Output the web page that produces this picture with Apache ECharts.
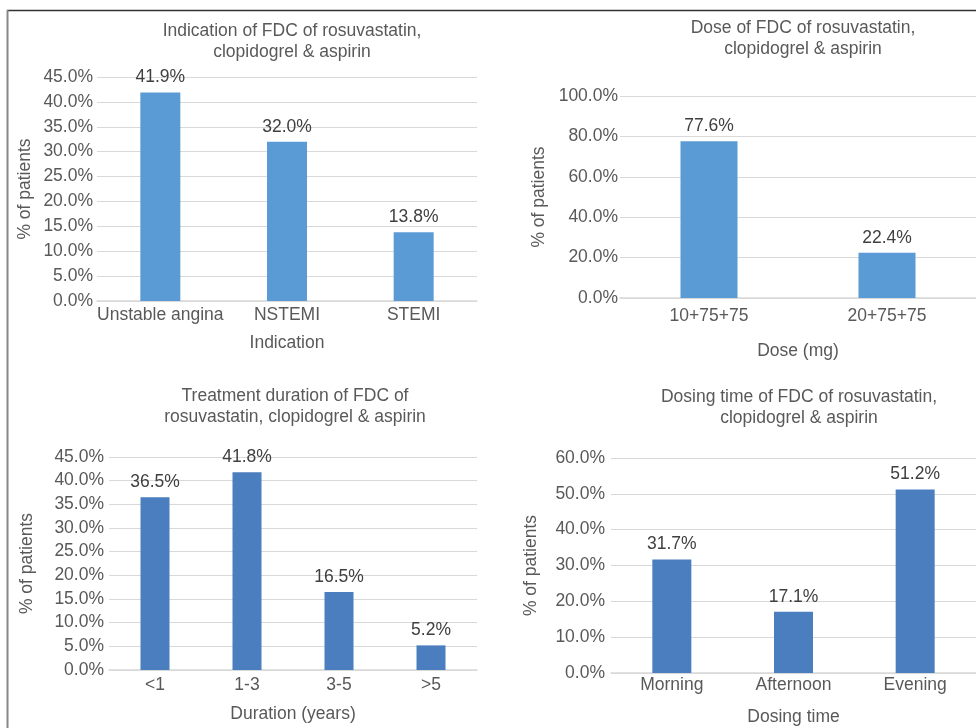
<!DOCTYPE html>
<html>
<head>
<meta charset="utf-8">
<script src="https://cdn.jsdelivr.net/npm/echarts@6/dist/echarts.min.js"></script>
<style>
html,body{margin:0;padding:0;background:#fff;}
#c{width:976px;height:728px;}
</style>
</head>
<body>
<div id="c"></div>
<script>
// ---- Data ----
const indicationCats = ['Unstable angina', 'NSTEMI', 'STEMI'];
const indicationVals = [41.9, 32.0, 13.8];

const doseCats = ['10+75+75', '20+75+75'];
const doseVals = [77.6, 22.4];

const durationCats = ['<1', '1-3', '3-5', '>5'];
const durationVals = [36.5, 41.8, 16.5, 5.2];

const timeCats = ['Morning', 'Afternoon', 'Evening'];
const timeVals = [31.7, 17.1, 51.2];

const titles = [
  'Indication of FDC of rosuvastatin,\nclopidogrel & aspirin',
  'Dose of FDC of rosuvastatin,\nclopidogrel & aspirin',
  'Treatment duration of FDC of\nrosuvastatin, clopidogrel & aspirin',
  'Dosing time of FDC of rosuvastatin,\nclopidogrel & aspirin'
];
const xNames = ['Indication', 'Dose (mg)', 'Duration (years)', 'Dosing time'];
const yName = '% of patients';

// ---- Styling / layout ----
const FONT = 'Liberation Sans, Arial, sans-serif';
const FS = 17.5;
const TXT = '#595959';
const GRID = '#D9D9D9';
const C_TOP = '#5B9BD5';
const C_BOT = '#4A7EBF';

const grids = [
  {left: 97, top: 77, width: 380, height: 224},
  {left: 620, top: 96, width: 356, height: 202},
  {left: 109, top: 457, width: 368, height: 213},
  {left: 611, top: 458, width: 366, height: 215}
];
const titlePos = [[287, 16], [798, 13], [290, 381], [794, 382]];
const yMax = [45, 100, 45, 60];
const yInt = [5, 20, 5, 10];
const xNameGap = [33, 44, 35, 35];
const yNameGap = [63, 72, 73, 71];
const xLabMargin = [5, 9, 6, 3];
const yLabMargin = [4, 2, 5, 6];
const barW = [40, 57, 29, 39];
const colors = [C_TOP, C_TOP, C_BOT, C_BOT];
const cats = [indicationCats, doseCats, durationCats, timeCats];
const vals = [indicationVals, doseVals, durationVals, timeVals];

const chart = echarts.init(document.getElementById('c'), null, {renderer: 'canvas'});

const option = {
  backgroundColor: '#fff',
  animation: false,
  textStyle: {fontFamily: FONT},
  title: titles.map((t, i) => ({
    text: t,
    left: titlePos[i][0],
    top: titlePos[i][1],
    textAlign: 'center',
    textStyle: {fontFamily: FONT, fontSize: FS, fontWeight: 'normal', color: TXT, lineHeight: 21}
  })),
  grid: grids.map(g => Object.assign({containLabel: false}, g)),
  xAxis: cats.map((c, i) => ({
    type: 'category',
    gridIndex: i,
    data: c,
    name: xNames[i],
    nameLocation: 'middle',
    nameGap: xNameGap[i],
    nameTextStyle: {fontFamily: FONT, fontSize: FS, color: TXT},
    axisLine: {show: true, lineStyle: {color: GRID, width: 1.5}},
    axisTick: {show: false},
    axisLabel: {fontFamily: FONT, fontSize: FS, color: TXT, margin: xLabMargin[i], interval: 0}
  })),
  yAxis: yMax.map((m, i) => ({
    type: 'value',
    gridIndex: i,
    min: 0,
    max: m,
    interval: yInt[i],
    name: yName,
    nameLocation: 'middle',
    nameGap: yNameGap[i],
    nameTextStyle: {fontFamily: FONT, fontSize: FS, color: TXT},
    axisLine: {show: false},
    axisTick: {show: false},
    splitLine: {show: true, lineStyle: {color: GRID, width: 1.2}},
    axisLabel: {fontFamily: FONT, fontSize: FS, color: TXT, margin: yLabMargin[i],
      formatter: v => v.toFixed(1) + '%'}
  })),
  series: vals.map((v, i) => ({
    type: 'bar',
    xAxisIndex: i,
    yAxisIndex: i,
    data: v,
    barWidth: barW[i],
    itemStyle: {color: colors[i]},
    label: {show: true, position: 'top', distance: 6, fontFamily: FONT, fontSize: FS, color: '#404040',
      formatter: p => p.value.toFixed(1) + '%'}
  })),
  graphic: [
    {type: 'line', shape: {x1: 7, y1: 10.5, x2: 976, y2: 10.5}, style: {stroke: '#333', lineWidth: 1.5}, silent: true},
    {type: 'line', shape: {x1: 7.5, y1: 10, x2: 7.5, y2: 728}, style: {stroke: '#888', lineWidth: 2}, silent: true}
  ]
};
chart.setOption(option);
</script>
</body>
</html>
